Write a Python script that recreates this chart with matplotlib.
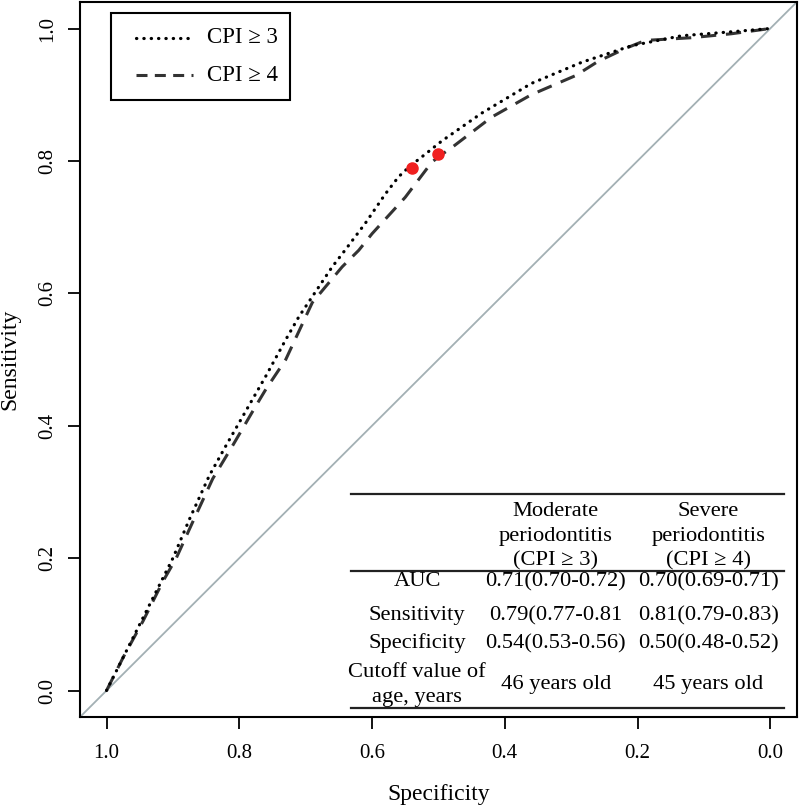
import matplotlib
matplotlib.use("Agg")
import matplotlib.pyplot as plt
from matplotlib.patches import Rectangle

plt.rcParams['font.family'] = ['Liberation Serif', 'DejaVu Serif']

# ROC curve points (specificity, sensitivity)
spec_cpi3 = [1.0, 0.975, 0.946, 0.92, 0.90, 0.875, 0.845, 0.82, 0.78, 0.76, 0.73, 0.71,
             0.69, 0.66, 0.64, 0.61, 0.58, 0.56, 0.543, 0.52, 0.495, 0.435, 0.36,
             0.284, 0.209, 0.134, 0.059, 0.0]
sens_cpi3 = [0.0, 0.05, 0.108, 0.16, 0.20, 0.259, 0.325, 0.37, 0.44, 0.475, 0.53, 0.565,
             0.595, 0.64, 0.666, 0.706, 0.75, 0.776, 0.792, 0.81, 0.83, 0.872, 0.917,
             0.949, 0.974, 0.989, 0.995, 1.0]

spec_cpi4 = [1.0, 0.975, 0.945, 0.915, 0.895, 0.87, 0.84, 0.81, 0.775, 0.76, 0.73, 0.69,
             0.645, 0.62, 0.60, 0.55, 0.51, 0.496, 0.48, 0.42, 0.36, 0.293, 0.26,
             0.218, 0.188, 0.12, 0.059, 0.0]
sens_cpi4 = [0.0, 0.05, 0.105, 0.165, 0.20, 0.255, 0.32, 0.37, 0.43, 0.455, 0.50, 0.586,
             0.64, 0.665, 0.69, 0.745, 0.798, 0.809, 0.82, 0.866, 0.90, 0.929, 0.95,
             0.97, 0.982, 0.986, 0.992, 1.0]

# optimal cutoff points
cut_spec = [0.54, 0.50]
cut_sens = [0.79, 0.81]

legend_labels = ["CPI \u2265 3", "CPI \u2265 4"]

# inset table
col_headers = ["Moderate\nperiodontitis\n(CPI \u2265 3)", "Severe\nperiodontitis\n(CPI \u2265 4)"]
row_names = ["AUC", "Sensitivity", "Specificity", "Cutoff value of\nage, years"]
col_moderate = ["0.71(0.70-0.72)", "0.79(0.77-0.81", "0.54(0.53-0.56)", "46 years old"]
col_severe = ["0.70(0.69-0.71)", "0.81(0.79-0.83)", "0.50(0.48-0.52)", "45 years old"]

dot_style = dict(color='black', lw=2.3, linestyle=(0, (0.1, 2.2)), dash_capstyle='round')
dash_style = dict(color='#333333', lw=2.2, linestyle=(0, (5.0, 3.2)))

fig = plt.figure(figsize=(8, 8.09), dpi=100)
ax = fig.add_axes([0.1, 0.1137, 0.896, 0.8838])

# chance line
ax.axline((1, 0), (0, 1), color='#a3b0b4', lw=1.3, zorder=1)

ax.plot(spec_cpi3, sens_cpi3, zorder=3, **dot_style)
ax.plot(spec_cpi4, sens_cpi4, zorder=2, **dash_style)
ax.plot(cut_spec, cut_sens, 'o', color='#f02020', ms=8, zorder=4)

ax.set_xlim(1.04, -0.04)
ax.set_ylim(-0.04, 1.04)
ticks = [0.0, 0.2, 0.4, 0.6, 0.8, 1.0]
ax.set_xticks(ticks)
ax.set_xticklabels([f"{t:.1f}" for t in ticks])
ax.set_yticks(ticks)
ax.set_yticklabels([f"{t:.1f}" for t in ticks], rotation=90, va='center')
ax.tick_params(length=8.5, width=1.3, labelsize=15, pad=8)
ax.tick_params(axis='x', pad=11)
for s in ax.spines.values():
    s.set_linewidth(1.5)

ax.set_xlabel("Specificity", fontsize=17)
ax.set_ylabel("Sensitivity", fontsize=17)
ax.xaxis.set_label_coords(0.5, -0.093)
ax.yaxis.set_label_coords(-0.083, 0.5)

# legend box drawn by hand (R style: wider inset on the left)
ax.add_patch(Rectangle((0.0432, 0.863), 0.2497, 0.1216, transform=ax.transAxes,
                       facecolor='white', edgecolor='black', lw=1.5, zorder=5))
ax.plot([0.0781, 0.1576], [0.9497, 0.9497], transform=ax.transAxes, zorder=6, **dot_style)
ax.plot([0.0781, 0.1576], [0.8979, 0.8979], transform=ax.transAxes, zorder=6,
        color='#333333', lw=2.2, linestyle=(0, (3.6, 2.4)))
for lab, yy in zip(legend_labels, [0.9497, 0.8979]):
    ax.text(0.1771, yy, lab, transform=ax.transAxes, ha='left', va='center',
            fontsize=16.5, zorder=6)

# table drawn in data coordinates
tx0, tx1 = 0.632, -0.021
for yl in [0.297, 0.181, -0.026]:
    ax.plot([tx0, tx1], [yl, yl], color='#222222', lw=1.6, zorder=2)

x_row, x_c1, x_c2 = 0.532, 0.323, 0.093
fs = 16.2
ax.text(x_c1, 0.233, col_headers[0], ha='center', va='center', fontsize=fs, linespacing=1.38)
ax.text(x_c2, 0.233, col_headers[1], ha='center', va='center', fontsize=fs, linespacing=1.38)
row_y = [0.164, 0.113, 0.071, 0.009]
for name, v1, v2, yy in zip(row_names, col_moderate, col_severe, row_y):
    ax.text(x_row, yy, name, ha='center', va='center', fontsize=fs, linespacing=1.42)
    ax.text(x_c1, yy, v1, ha='center', va='center', fontsize=fs)
    ax.text(x_c2, yy, v2, ha='center', va='center', fontsize=fs)

fig.savefig("out.png", dpi=100)
